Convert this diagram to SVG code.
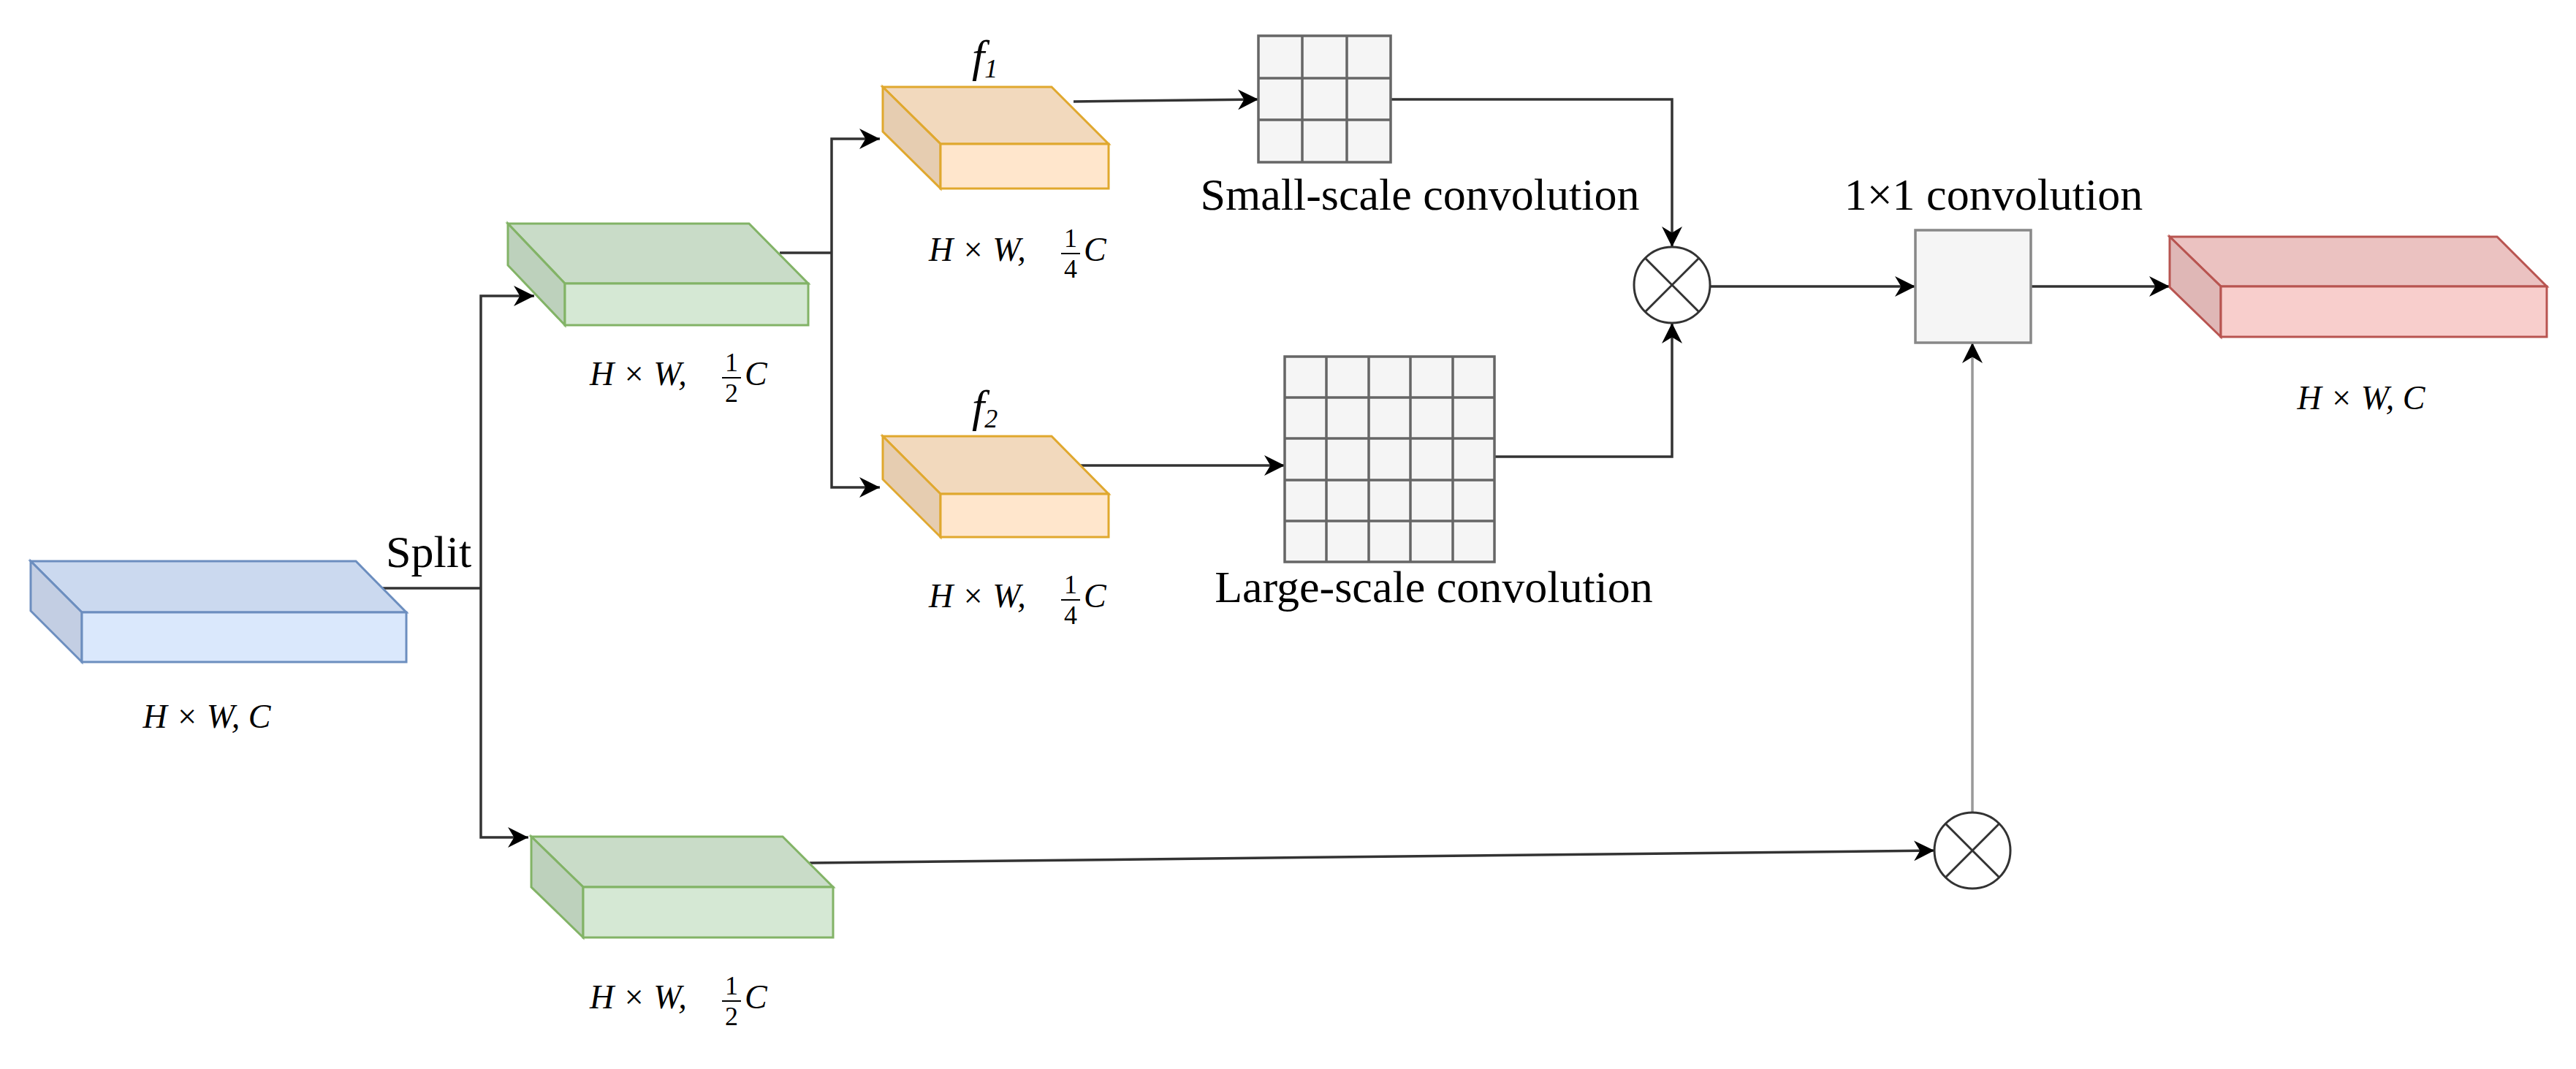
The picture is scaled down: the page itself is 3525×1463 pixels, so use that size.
<svg xmlns="http://www.w3.org/2000/svg" width="3525" height="1463" viewBox="0 0 3525 1463">
<defs>
<marker id="ah" markerUnits="userSpaceOnUse" markerWidth="28" markerHeight="28" viewBox="0 0 10 10" refX="10" refY="5" orient="auto"><path d="M0,0 L10,5 L0,10 L3,5 z" fill="#000"/></marker>
</defs>
<style>
.c{fill:none;stroke:#333;stroke-width:3.5}
.g{fill:none;stroke:#999;stroke-width:3.5}
.t{font-family:"Liberation Serif",serif;font-size:62px;fill:#000}
.m{font-family:"Liberation Serif",serif;font-style:italic;font-size:46px;fill:#000}
.fr{font-family:"Liberation Serif",serif;font-size:36px;fill:#000}
.fi{font-family:"Liberation Serif",serif;font-style:italic;font-size:62px;fill:#000}
.fs{font-family:"Liberation Serif",serif;font-style:italic;font-size:36px;fill:#000}
.grid{fill:#f5f5f5;stroke:#666;stroke-width:3.5}
.gl{stroke:#666;stroke-width:3.5}
.ox{fill:#fff;stroke:#333;stroke-width:3}
</style>
<rect width="3525" height="1463" fill="#fff"/>
<g id="connectors">
<path class="c" d="M523,805 H658"/>
<path class="c" d="M658,805 V405 H731" marker-end="url(#ah)"/>
<path class="c" d="M658,805 V1146 H723" marker-end="url(#ah)"/>
<path class="c" d="M1067,346 H1138"/>
<path class="c" d="M1138,346 V190 H1204" marker-end="url(#ah)"/>
<path class="c" d="M1138,346 V667 H1204" marker-end="url(#ah)"/>
<path class="c" d="M1469,139 L1722,136" marker-end="url(#ah)"/>
<path class="c" d="M1478,637 L1758,637" marker-end="url(#ah)"/>
<path class="c" d="M1903,136 H2288 V338" marker-end="url(#ah)"/>
<path class="c" d="M2045,625 H2288 V442" marker-end="url(#ah)"/>
<path class="c" d="M2340,392 H2621" marker-end="url(#ah)"/>
<path class="c" d="M2779,392 H2969" marker-end="url(#ah)"/>
<path class="c" d="M1108,1181 L2647,1164" marker-end="url(#ah)"/>
<path class="g" d="M2699,1112 V469" marker-end="url(#ah)"/>
</g>
<text class="t" x="528" y="776">Split</text>
<g id="input" stroke="#6c8ebf" stroke-width="3">
<polygon points="42,768 487,768 556,838 112,838" fill="#cbd9ef"/>
<polygon points="42,768 112,838 112,906 42,836" fill="#c3cee3"/>
<rect x="112" y="838" width="444" height="68" fill="#dae8fc"/>
<text class="m" x="283" y="996" text-anchor="middle" stroke="none">H × W, C</text>
</g>
<g id="green1" stroke="#82b366" stroke-width="3">
<polygon points="695,306 1025,306 1106,388 773,388" fill="#c9dcc8"/>
<polygon points="695,306 773,388 773,445 695,363" fill="#bdd1bc"/>
<rect x="773" y="388" width="333" height="57" fill="#d5e8d4"/>
<g stroke="none" transform="translate(935,514)">
<text class="m" x="-128" y="13">H × W,</text>
<text class="fr" x="66" y="-6" text-anchor="middle">1</text>
<line x1="53" y1="3" x2="79" y2="3" stroke="#000" stroke-width="2"/>
<text class="fr" x="66" y="36" text-anchor="middle">2</text>
<text class="m" x="84" y="13">C</text>
</g>
</g>
<g id="green2" stroke="#82b366" stroke-width="3">
<polygon points="727,1145 1071,1145 1140,1214 798,1214" fill="#c9dcc8"/>
<polygon points="727,1145 798,1214 798,1283 727,1214" fill="#bdd1bc"/>
<rect x="798" y="1214" width="342" height="69" fill="#d5e8d4"/>
<g stroke="none" transform="translate(935,1367)">
<text class="m" x="-128" y="13">H × W,</text>
<text class="fr" x="66" y="-6" text-anchor="middle">1</text>
<line x1="53" y1="3" x2="79" y2="3" stroke="#000" stroke-width="2"/>
<text class="fr" x="66" y="36" text-anchor="middle">2</text>
<text class="m" x="84" y="13">C</text>
</g>
</g>
<g id="orange1" stroke="#e0a82e" stroke-width="3">
<polygon points="1208,119 1439,119 1517,197 1287,197" fill="#f2d9bd"/>
<polygon points="1208,119 1287,197 1287,258 1208,180" fill="#e6cdb1"/>
<rect x="1287" y="197" width="230" height="61" fill="#ffe6cc"/>
<text class="fi" x="1330" y="98" stroke="none">f<tspan class="fs" dy="8">1</tspan></text>
<g stroke="none" transform="translate(1399,344)">
<text class="m" x="-128" y="13">H × W,</text>
<text class="fr" x="66" y="-6" text-anchor="middle">1</text>
<line x1="53" y1="3" x2="79" y2="3" stroke="#000" stroke-width="2"/>
<text class="fr" x="66" y="36" text-anchor="middle">4</text>
<text class="m" x="84" y="13">C</text>
</g>
</g>
<g id="orange2" stroke="#e0a82e" stroke-width="3">
<polygon points="1208,597 1439,597 1517,676 1287,676" fill="#f2d9bd"/>
<polygon points="1208,597 1287,676 1287,735 1208,656" fill="#e6cdb1"/>
<rect x="1287" y="676" width="230" height="59" fill="#ffe6cc"/>
<text class="fi" x="1330" y="577" stroke="none">f<tspan class="fs" dy="8">2</tspan></text>
<g stroke="none" transform="translate(1399,818)">
<text class="m" x="-128" y="13">H × W,</text>
<text class="fr" x="66" y="-6" text-anchor="middle">1</text>
<line x1="53" y1="3" x2="79" y2="3" stroke="#000" stroke-width="2"/>
<text class="fr" x="66" y="36" text-anchor="middle">4</text>
<text class="m" x="84" y="13">C</text>
</g>
</g>
<g id="small-conv">
<rect class="grid" x="1722" y="49" width="181" height="173"/>
<path class="gl" d="M1782,49 V222 M1843,49 V222 M1722,107 H1903 M1722,164 H1903"/>
<text class="t" x="1943" y="287" text-anchor="middle">Small-scale convolution</text>
</g>
<g id="large-conv">
<rect class="grid" x="1758" y="488" width="287" height="281"/>
<path class="gl" d="M1815,488 V769 M1873,488 V769 M1930,488 V769 M1988,488 V769 M1758,544 H2045 M1758,600 H2045 M1758,657 H2045 M1758,713 H2045"/>
<text class="t" x="1962" y="824" text-anchor="middle">Large-scale convolution</text>
</g>
<g id="mul1">
<circle class="ox" cx="2288" cy="390" r="52"/>
<path stroke="#333" stroke-width="3" d="M2251,353 L2325,427 M2325,353 L2251,427"/>
</g>
<g id="mul2">
<circle class="ox" cx="2699" cy="1164" r="52"/>
<path stroke="#333" stroke-width="3" d="M2662,1127 L2736,1201 M2736,1127 L2662,1201"/>
</g>
<g id="conv1x1">
<rect x="2621" y="315" width="158" height="154" fill="#f5f5f5" stroke="#888" stroke-width="3.5"/>
<text class="t" x="2728" y="287" text-anchor="middle">1×1 convolution</text>
</g>
<g id="output" stroke="#b85450" stroke-width="3">
<polygon points="2969,324 3417,324 3485,392 3039,392" fill="#ebc2c1"/>
<polygon points="2969,324 3039,392 3039,461 2969,393" fill="#dfb7b6"/>
<rect x="3039" y="392" width="446" height="69" fill="#f8cecc"/>
<text class="m" x="3231" y="560" text-anchor="middle" stroke="none">H × W, C</text>
</g>
</svg>
